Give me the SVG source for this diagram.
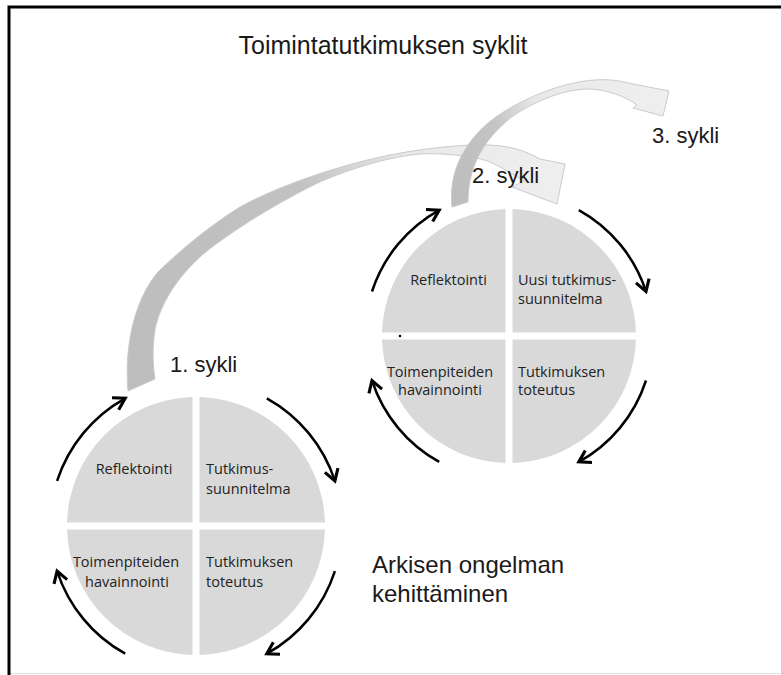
<svg xmlns="http://www.w3.org/2000/svg" width="781" height="675" viewBox="0 0 781 675">
<style>
.big{font-family:"Liberation Sans",Arial,sans-serif;fill:#1a1a1a}
.q{font-family:"Open Sans","Liberation Sans",sans-serif;font-size:14.5px;fill:#222}
.quad{fill:#d9d9d9}
.cyc{fill:none;stroke:#000;stroke-width:2.5;marker-end:url(#vh)}
.band{stroke:#cbcbcb;stroke-width:1}
</style>
<defs>
<marker id="vh" markerUnits="userSpaceOnUse" markerWidth="20" markerHeight="20" refX="0" refY="0" viewBox="-12 -8 14 16" orient="auto">
<path d="M-9,-5.5 L0,0 L-9,5.5" fill="none" stroke="#000" stroke-width="2.5"/>
</marker>
<linearGradient id="g1" gradientUnits="userSpaceOnUse" x1="130" y1="380" x2="560" y2="160">
<stop offset="0" stop-color="#bdbdbd"/>
<stop offset="0.5" stop-color="#c2c2c2"/>
<stop offset="0.72" stop-color="#e8e8e8"/>
<stop offset="1" stop-color="#efefef"/>
</linearGradient>
<linearGradient id="g2" gradientUnits="userSpaceOnUse" x1="460" y1="205" x2="665" y2="95">
<stop offset="0" stop-color="#bdbdbd"/>
<stop offset="0.3" stop-color="#c4c4c4"/>
<stop offset="0.5" stop-color="#e8e8e8"/>
<stop offset="1" stop-color="#efefef"/>
</linearGradient>
</defs>
<rect width="781" height="675" fill="#fff"/>
<g id="frame">
<line x1="9" y1="673.5" x2="781" y2="673.5" stroke="#e2e2e2" stroke-width="1"/>
<path d="M9,675 L9,7 L781,7" fill="none" stroke="#000" stroke-width="3"/>
</g>
<g id="title"><text class="big" x="383" y="54" font-size="25" text-anchor="middle">Toimintatutkimuksen syklit</text></g>
<g id="connectors">
<path id="arrow1" class="band" fill="url(#g1)" d="M128,391 C124,345 135,300 157,273 C180,250 215,222 240,207 C280,185 340,165 390,155 C420,149 460,144 490,145 C512,146 528,152 540,159 L565,164 L557,204 L512,187 L524,181 C512,174 500,166 488,161 C468,155 440,153 420,154 C395,156 360,165 322,181 C290,196 240,225 207,251 C180,273 160,303 155,330 C152,350 153,365 155,379 Z"/>
<path id="arrow2" class="band" fill="url(#g2)" d="M452,207 C448,172 465,135 505,111 C540,90 590,72 628,83 L669,91 L663,116 L633,108 L637,105 C625,96 605,89 587,89 C560,90 532,103 513,116 C490,134 468,160 468,202 Z"/>
<g transform="translate(196,526)">
<path class="cyc" d="M-138.9,-45.1 A146,146 0 0 1 -70.8,-127.7"/>
<path class="cyc" d="M70.8,-127.7 A146,146 0 0 1 138.9,-45.1"/>
<path class="cyc" d="M138.9,45.1 A146,146 0 0 1 70.8,127.7"/>
<path class="cyc" d="M-70.8,127.7 A146,146 0 0 1 -138.9,45.1"/>
</g>
<g transform="translate(509,336)">
<path class="cyc" d="M-137,-44.5 A144,144 0 0 1 -69.8,-125.9"/>
<path class="cyc" d="M69.8,-125.9 A144,144 0 0 1 137,-44.5"/>
<path class="cyc" d="M137,44.5 A144,144 0 0 1 69.8,125.9"/>
<path class="cyc" d="M-69.8,125.9 A144,144 0 0 1 -137,44.5"/>
</g>
</g>
<g id="cycle1" transform="translate(196,526)">
<path class="quad" d="M-3.5,-3.5 L-3.5,-128.95 A129,129 0 0 0 -128.95,-3.5 Z"/>
<path class="quad" d="M3.5,-3.5 L128.95,-3.5 A129,129 0 0 0 3.5,-128.95 Z"/>
<path class="quad" d="M3.5,3.5 L3.5,128.95 A129,129 0 0 0 128.95,3.5 Z"/>
<path class="quad" d="M-3.5,3.5 L-128.95,3.5 A129,129 0 0 0 -3.5,128.95 Z"/>
<text class="q" x="-62" y="-52" text-anchor="middle">Reflektointi</text>
<text class="q" x="10" y="-52">Tutkimus-</text>
<text class="q" x="10" y="-32">suunnitelma</text>
<text class="q" x="-70" y="41" text-anchor="middle">Toimenpiteiden</text>
<text class="q" x="-69" y="61" text-anchor="middle">havainnointi</text>
<text class="q" x="10" y="41">Tutkimuksen</text>
<text class="q" x="10" y="61">toteutus</text>
</g>
<g id="cycle2" transform="translate(509,336)">
<path class="quad" d="M-3.5,-3.5 L-3.5,-126.95 A127,127 0 0 0 -126.95,-3.5 Z"/>
<path class="quad" d="M3.5,-3.5 L126.95,-3.5 A127,127 0 0 0 3.5,-126.95 Z"/>
<path class="quad" d="M3.5,3.5 L3.5,126.95 A127,127 0 0 0 126.95,3.5 Z"/>
<path class="quad" d="M-3.5,3.5 L-126.95,3.5 A127,127 0 0 0 -3.5,126.95 Z"/>
<text class="q" x="-60.5" y="-51" text-anchor="middle">Reflektointi</text>
<text class="q" x="9" y="-51">Uusi tutkimus-</text>
<text class="q" x="9" y="-32">suunnitelma</text>
<text class="q" x="-69" y="41" text-anchor="middle">Toimenpiteiden</text>
<text class="q" x="-69" y="59" text-anchor="middle">havainnointi</text>
<text class="q" x="9" y="41">Tutkimuksen</text>
<text class="q" x="9" y="59">toteutus</text>
<circle cx="-109" cy="0" r="1.3" fill="#000"/>
</g>
<g id="label1"><text class="big" x="170" y="372" font-size="22">1. sykli</text></g>
<g id="label2"><text class="big" x="472" y="183" font-size="22">2. sykli</text></g>
<g id="label3"><text class="big" x="652" y="143" font-size="22">3. sykli</text></g>
<g id="note"><text class="big" font-size="24"><tspan x="372" y="573">Arkisen ongelman</tspan><tspan x="372" y="602">kehittäminen</tspan></text></g>
</svg>
